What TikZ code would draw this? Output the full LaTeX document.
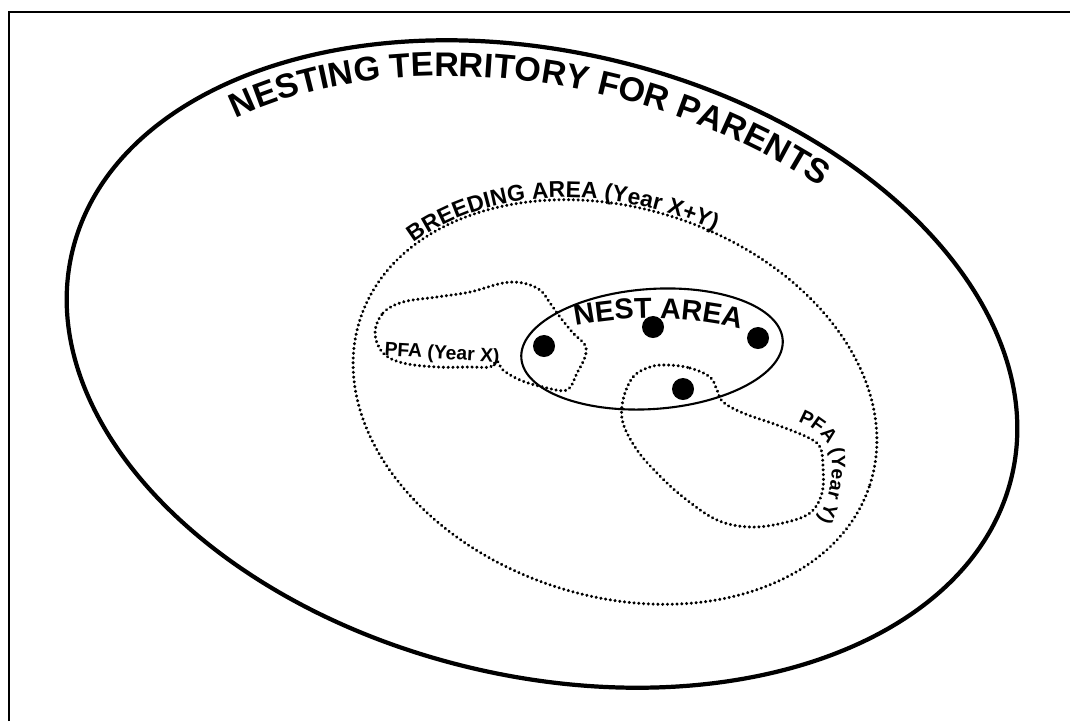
\documentclass[tikz,border=0pt]{standalone}
\usepackage{fontspec}
\setmainfont{Liberation Sans}
\usepackage{tikz}
\usetikzlibrary{decorations.text}

\newcommand{\territoryfont}{\fontsize{9.7}{11}\selectfont\bfseries}
\newcommand{\breedfont}{\fontsize{6.5}{8}\selectfont\bfseries}
\newcommand{\nestfont}{\fontsize{8.2}{9}\selectfont\bfseries}
\newcommand{\pfafont}{\fontsize{5.5}{6}\selectfont\bfseries}

\begin{document}
\begin{tikzpicture}[x=0.01cm, y=0.01cm]
      \tikzstyle{territory}=[line width=1.2pt]
      \tikzstyle{nestline}=[line width=0.6pt]
      \tikzstyle{dotline}=[line width=0.95pt, dash pattern=on 0.01pt off 1.35pt, line cap=round]
      \tikzstyle{nestdot}=[circle, fill=black, inner sep=0pt, minimum size=0.22cm]
      \useasboundingbox (0,0) rectangle (1070,-721);
      \fill[white] (0,0) rectangle (1070,-721);
      \draw[line width=0.6pt] (9,-721) -- (9,-12) -- (1070,-12);
      \begin{scope}[shift={(542,-364)}, rotate=-13.5]
        \draw[territory] (0,0) ellipse [x radius=483, y radius=312];
        \path[decorate, decoration={text along path, text align=center,
          text={|\territoryfont|NESTING TERRITORY FOR PARENTS}}]
          (150:446 and 276) arc[start angle=150, end angle=53, x radius=446, y radius=276];
      \end{scope}
      \begin{scope}[shift={(615,-402)}, rotate=-18]
        \draw[dotline] (0,0) ellipse [x radius=268, y radius=194];
        \path[decorate, decoration={text along path, text align=center, raise=0.6pt,
          text={|\breedfont|BREEDING AREA (Year X+Y)}}]
          (170:268 and 194) arc[start angle=170, end angle=68, x radius=268, y radius=194];
      \end{scope}
      \draw[nestline, rotate around={4:(652,-349)}] (652,-349) ellipse [x radius=131, y radius=60];
      \path[decorate, decoration={text along path, text align=center,
        text={|\nestfont|NEST AREA}}]
        (560,-329) .. controls (625,-314) and (695,-314) .. (756,-333);
      \draw[dotline] plot[smooth cycle, tension=0.6] coordinates {
        (375,-333) (383,-313) (403,-302) (437,-297) (470,-292) (503,-283)
        (523,-283) (540,-290) (550,-303) (560,-317) (573,-333) (585,-345)
        (585,-357) (577,-373) (567,-390) (543,-387) (520,-380) (503,-370)
        (497,-361) (490,-367) (470,-367) (437,-367) (403,-363) (383,-353)};
      \draw[dotline] plot[smooth cycle, tension=0.6] coordinates {
        (667,-365) (690,-368) (710,-377) (717,-390) (723,-402) (743,-413)
        (777,-425) (807,-437) (820,-447) (823,-467) (822,-493) (810,-513)
        (783,-523) (750,-527) (717,-520) (683,-497) (657,-473) (637,-450)
        (623,-423) (623,-400) (633,-377) (650,-367)};
      \node[nestdot] (dotA) at (544,-346) {};
      \node[nestdot] (dotB) at (653,-327) {};
      \node[nestdot] (dotC) at (758,-338) {};
      \node[nestdot] (dotD) at (683,-389) {};
      \node[rotate=-3.5, font=\pfafont] (pfaX) at (442,-354) {PFA (Year X)};
      \path[decorate, decoration={text along path, text align=center,
        text={|\pfafont|PFA (Year Y)}}]
        (782,-416) .. controls (815,-425) and (833,-440) .. (832,-465)
        .. controls (832,-490) and (824,-512) .. (810,-535);
    \end{tikzpicture}
\end{document}
